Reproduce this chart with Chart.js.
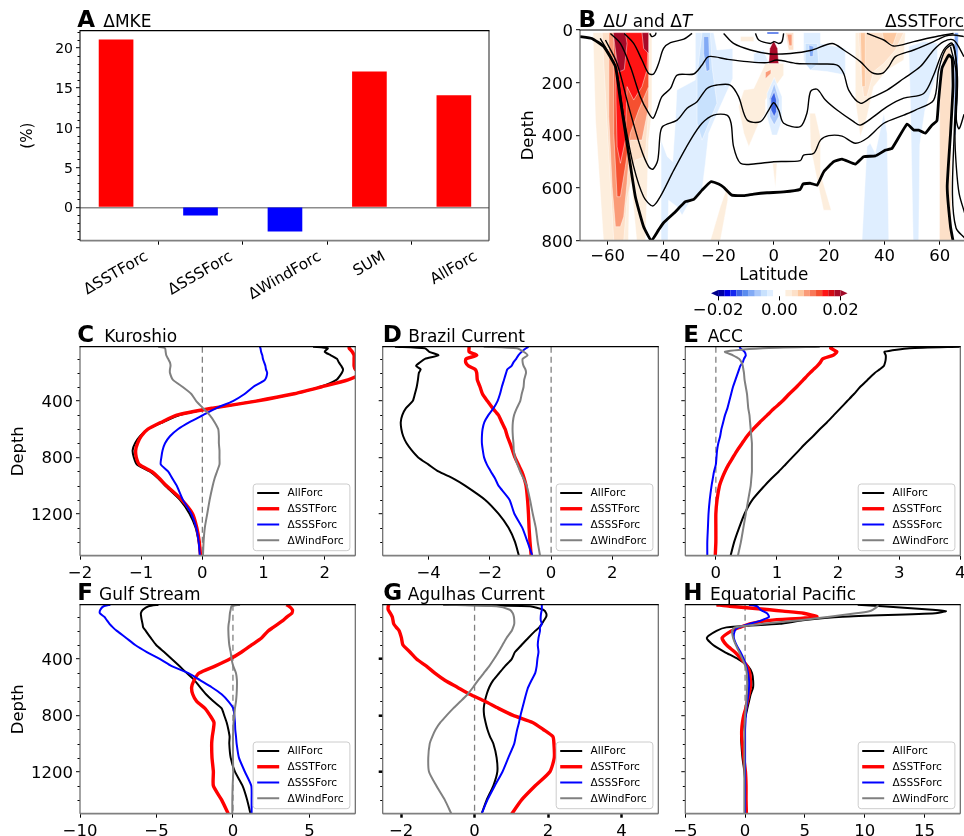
<!DOCTYPE html>
<html><head><meta charset="utf-8">
<script src="https://cdn.jsdelivr.net/npm/chart.js@4"></script>
<style>
html,body{margin:0;padding:0;width:964px;height:836px;overflow:hidden;background:#fff}
canvas{position:absolute;left:0;top:0}
</style></head><body>
<script>
// ---------- data ----------
const forcingNames = ['ΔSSTForc','ΔSSSForc','ΔWindForc','SUM','AllForc'];
const mkeValues = [21,-1,-3,17,14];
const lineLabels = ['AllForc','ΔSSTForc','ΔSSSForc','ΔWindForc'];
const depths = [14,25,50,75,100,125,150,175,200,250,300,350,400,450,500,550,600,650,700,750,800,850,900,950,1000,1100,1200,1300,1400,1500];
const depthsH = [14,25,50,60,75,100,125,150,175,200,250,300,350,400,450,500,550,600,650,700,750,800,850,900,950,1000,1100,1200,1300,1400,1500];

const kuroAll = [1.81,2.05,2.0,2.1,2.2,2.23,2.27,2.3,2.28,2.19,1.92,1.48,.88,.17,-.37,-.64,-.89,-1.02,-1.1,-1.14,-1.12,-1.07,-.86,-.72,-.61,-.37,-.21,-.11,-.06,-.03];
const kuroSST = [2.4,2.4,2.45,2.48,2.48,2.48,2.48,2.5,2.62,2.38,1.94,1.48,.88,.17,-.42,-.67,-.89,-1.0,-1.06,-1.09,-1.08,-1.03,-.83,-.7,-.59,-.34,-.16,-.09,-.05,-.03];
const kuroSSS = [.94,.95,.96,.98,.99,1.01,1.03,1.04,1.06,1.02,.83,.69,.5,.23,.01,-.21,-.4,-.53,-.61,-.65,-.67,-.68,-.56,-.49,-.42,-.32,-.18,-.1,-.06,-.04];
const kuroWind = [-.72,-.61,-.6,-.59,-.56,-.53,-.52,-.53,-.53,-.48,-.32,-.18,-.1,.01,.12,.2,.26,.27,.27,.28,.28,.28,.24,.2,.17,.12,.08,.04,.02,.01];

const brazAll = [-5.1,-4.12,-3.98,-3.68,-4.12,-4.28,-4.41,-4.26,-4.32,-4.35,-4.39,-4.45,-4.52,-4.74,-4.86,-4.91,-4.89,-4.83,-4.72,-4.55,-4.34,-4.01,-3.68,-3.19,-2.81,-2.16,-1.72,-1.39,-1.18,-1.05];
const brazSST = [-2.68,-2.68,-2.68,-2.43,-2.78,-2.79,-2.7,-2.48,-2.43,-2.41,-2.32,-2.24,-2.08,-1.91,-1.72,-1.61,-1.5,-1.43,-1.34,-1.26,-1.18,-1.07,-.96,-.88,-.82,-.77,-.74,-.72,-.69,-.65];
const brazSSS = [-.74,-.82,-.96,-1.07,-1.14,-1.23,-1.29,-1.43,-1.47,-1.54,-1.61,-1.67,-1.75,-1.88,-2.05,-2.18,-2.24,-2.26,-2.26,-2.23,-2.19,-2.1,-1.97,-1.83,-1.72,-1.36,-1.2,-.94,-.77,-.61];
const brazWind = [-2.2,-1.12,-.9,-.77,-.93,-.93,-.9,-.84,-.82,-.88,-.9,-.96,-1.01,-1.12,-1.21,-1.25,-1.26,-1.25,-1.23,-1.22,-1.18,-1.1,-1.01,-.9,-.8,-.69,-.6,-.5,-.44,-.36];

const accAll = [3.99,3.17,2.76,2.78,2.78,2.77,2.75,2.68,2.6,2.48,2.36,2.26,2.15,2.04,1.93,1.82,1.7,1.59,1.47,1.36,1.25,1.14,1.03,.91,.8,.6,.47,.38,.3,.24];
const accSST = [1.91,1.88,1.98,1.92,1.75,1.71,1.66,1.6,1.54,1.43,1.32,1.2,1.09,.96,.84,.72,.61,.51,.43,.35,.28,.21,.15,.1,.06,.02,0,0,0,-.01];
const accSSS = [.39,.4,.47,.49,.46,.44,.4,.38,.36,.32,.28,.25,.22,.19,.15,.12,.09,.07,.04,.02,.01,0,-.03,-.05,-.07,-.1,-.12,-.13,-.14,-.14];
const accWind = [1.7,.77,.15,.28,.38,.42,.44,.45,.46,.47,.49,.51,.52,.53,.55,.56,.57,.58,.59,.59,.59,.59,.59,.58,.57,.53,.49,.45,.41,.36];

const gulfAll = [-4.87,-5.52,-5.89,-6.02,-6.0,-5.96,-5.91,-5.87,-5.7,-5.37,-5.02,-4.5,-4.0,-3.5,-3.02,-2.52,-2.15,-1.76,-1.28,-.74,-.57,-.41,-.3,-.22,-.24,-.15,.13,.63,.93,1.15];
const gulfSST = [3.5,3.67,3.89,3.85,3.54,3.28,2.96,2.63,2.3,1.87,1.22,.57,-.2,-1.17,-2.22,-2.54,-2.7,-2.63,-2.37,-1.83,-1.5,-1.24,-1.28,-1.35,-1.39,-1.37,-1.28,-1.28,-.74,-.3];
const gulfSSS = [-8.02,-8.46,-8.67,-8.7,-8.41,-8.24,-8.07,-7.85,-7.59,-6.98,-6.39,-5.63,-4.76,-4.0,-2.91,-2.15,-1.39,-.74,-.3,.02,.09,.13,.15,.2,.24,.39,.78,1.2,1.22,1.22];
const gulfWind = [.46,-.09,-.15,-.2,-.22,-.24,-.28,-.3,-.3,-.28,-.24,-.15,-.09,.02,.2,.26,.26,.24,.2,.13,.09,.04,.02,0,0,0,.02,-.02,-.04,-.04];

const agulAll = [-.85,1.51,1.87,1.95,1.95,1.89,1.83,1.76,1.65,1.46,1.28,1.1,1.01,.83,.67,.51,.4,.33,.28,.25,.26,.3,.35,.42,.51,.6,.62,.51,.33,.19];
const agulSST = [-2.33,-2.35,-2.35,-2.29,-2.24,-2.22,-2.2,-2.13,-2.05,-1.99,-1.95,-1.76,-1.58,-1.31,-1.08,-.81,-.47,-.13,.28,.65,1.05,1.58,1.87,2.13,2.16,2.17,2.05,1.65,1.28,1.01];
const agulSSS = [1.83,1.83,1.83,1.81,1.8,1.8,1.83,1.78,1.78,1.74,1.72,1.74,1.71,1.69,1.65,1.55,1.46,1.4,1.35,1.3,1.25,1.21,1.16,1.12,1.08,.92,.76,.55,.35,.19];
const agulWind = [-.85,.6,.96,1.04,1.07,1.08,1.08,1.05,1.01,.87,.76,.65,.53,.4,.25,.1,-.04,-.19,-.38,-.58,-.76,-.93,-1.06,-1.15,-1.22,-1.26,-1.24,-1.04,-.81,-.63];

const eqAll = [9.42,11.5,15.67,16.8,15.9,8.17,4.83,2.89,-1.56,-2.39,-3.2,-2.67,-1.7,-.58,.25,.58,.67,.67,.47,.33,.19,.06,-.11,-.22,-.33,-.31,-.22,-.06,.03,.06,.06];
const eqSST = [-2.4,-1.28,2.06,3.17,4.9,6.0,2.06,.39,-.44,-1.14,-1.92,-1.56,-.86,-.31,.17,.39,.44,.44,.33,.19,.06,-.11,-.22,-.28,-.28,-.22,-.11,.03,.08,.08,.11];
const eqSSS = [.33,1.0,1.28,1.5,1.83,2.0,1.36,.39,-.58,-.86,-.94,-.72,-.39,-.11,.11,.25,.33,.33,.28,.19,.11,.06,.03,0,0,0,0,0,0,0,0];
const eqWind = [11.08,11.08,10.67,10.39,9.28,7.06,4.56,1.5,-.86,-1.08,-1,-.78,-.5,-.22,.03,.14,.17,.17,.14,.11,.06,0,-.03,-.06,-.06,-.06,-.06,-.06,-.06,-.06,-.06];

// Panel B: black contours as flat [lat, depth, ...] lists
const isoThick = [-70,25,-65.7,32,-61.4,63,-57.2,139,-55.4,266,-53,430,-50,633,-47,747,-44.2,800,-41.6,759,-39.8,732,-36.1,696,-31.9,652,-28.9,643,-25.9,608,-22.7,576,-19.9,585,-18.1,597,-15.1,627,-10.8,629,-7.2,623,-2.4,618,3.6,615,9.6,605,10.6,585,13.3,582,15.7,589,18.1,538,21.7,500,24.7,490,29.5,509,32.5,481,36.7,478,40.4,456,42.8,449,48.2,357,50.6,380,52.4,380,54.8,392,57.2,361,59,344,59.6,266,60.8,146,63.3,95,64.5,108,64.8,215,63.9,392,62.7,595,63.9,747,64.8,800];
const iso1a = [-54,13,-50.6,51,-47.6,114,-45.2,165,-43.4,167,-41.6,127,-39.8,70,-37.3,48,-32.5,35,-29.5,13];
const iso1b = [-18.1,13,-14.5,51,-8.4,76,-1.2,91,6,89,13.3,78,21.1,51,25.3,76,31.3,120,35.5,162,39.2,165,41.6,139,44,101,50.6,76,57.8,44,62,23,65,19,68.7,25];
const iso1c = [33.7,13,39.8,38,43.4,61,50.6,44,59.6,23,65,13];
const iso1d = [-6.6,13,-5.4,38,-1.2,51,.2,44,1.8,51,3,44,3.6,13];
const iso1e = [-44.8,13,-44,25,-42.8,19,-42.5,10];
const iso2 = [-59,13,-55.4,51,-51.8,139,-48.2,253,-45.2,316,-43.6,335,-42.2,304,-40.4,253,-37.3,222,-34.9,171,-28.9,167,-25.9,133,-23.5,101,-16.9,111,-9.6,120,-2.4,124,1.2,114,8.4,127,16.9,129,22.9,133,25.3,165,27.1,228,31.3,278,34.9,259,41,228,47,184,53,139,57.8,76,61.4,44,65,38,67.5,76,68.7,101];
const iso3 = [-60.8,38,-56.6,127,-52.4,291,-48.2,443,-45.2,519,-43.6,528,-41.9,494,-41,392,-40,365,-34.9,342,-31.3,297,-27.7,272,-24.1,222,-20.5,209,-15.7,209,-12.7,253,-9.6,342,-4.8,348,-1.8,304,0,276,1.8,304,3.6,354,9.6,367,12,316,13.3,234,15.7,225,18.7,266,22.9,304,28.9,348,31.3,361,36.1,329,41,291,47,259,54.2,241,57.8,171,61.4,76,64.5,51,66.4,180,66,340,67,375,68.8,320];
const iso4 = [-62.7,32,-57.2,139,-54.2,329,-50.6,519,-47,633,-43.7,668,-41,633,-36.1,532,-30.1,418,-25.9,354,-21.7,323,-16.9,323,-15.4,354,-14.5,443,-12,506,-7.2,509,0,500,9.6,496,10.8,475,14.5,468,16.9,418,19.9,401,24.7,403,29.5,430,33.7,411,39.8,354,47,323,51.2,304,57.8,266,59.6,152,62,76,65,57,66.3,200,65.5,400,66,520,67,620,69,695];
const iso5 = [63.9,63,65.9,160,65.3,372,64.6,626,65.9,752,69,790];
const isoLines = [iso1a,iso1b,iso1c,iso1d,iso1e,iso2,iso3,iso4,iso5];

// Panel B: shaded anomaly regions, [value, flat lat/depth outline], painted in order
const shadeRegions = [
 [.003,[-65.3,10,-44,10,-44,304,-45.2,418,-46.3,800,-49.5,800,-52,520,-52.5,800,-61.5,800,-64.4,342]],
 [.005,[-62,10,-45.2,10,-45.2,304,-46.4,481,-50,494,-53,646,-54.2,800,-57.8,800,-60,400]],
 [.009,[-59.6,10,-45.2,10,-45.2,291,-47.6,418,-51.8,418,-53,582,-54.2,709,-55.4,747,-57.2,747,-58.4,595,-59.6,329]],
 [.013,[-57.8,10,-45.2,10,-45.2,215,-48.8,304,-51.8,392,-53.6,519,-55.4,633,-56.6,633,-57.8,392]],
 [.015,[-57.2,10,-45.2,10,-45.8,152,-47.6,215,-50.6,266,-53,215,-53.6,418,-55.4,506,-56.6,443,-57,266]],
 [.019,[-58,10,-53.6,10,-53,51,-54,150,-56,160,-57.2,76]],
 [.019,[-47.6,10,-45.2,10,-45.2,90,-47,70]],
 [-.003,[-35.5,342,-35,228,-28.3,190,-28.3,10,-21.7,10,-20.5,76,-14.8,70,-14.8,184,-19.9,304,-23.5,392,-24.7,506,-25.9,608,-30.1,646,-33.1,703,-34.9,671,-38,646,-38.2,800,-40.7,800,-40.7,418,-38.5,480,-36.5,500]],
 [-.005,[-27.7,171,-25.9,10,-22.9,10,-22.3,139,-20.5,278,-25.9,418,-27.7,354]],
 [-.009,[-25.3,25,-23.5,25,-23.1,152,-24.3,158,-25.3,89]],
 [.003,[-12.7,291,-10.8,228,-7.2,222,-3,127,3.6,127,3.6,171,-3,266,-3,316,-5.4,354,-9,443,-10.8,392]],
 [.003,[-.4,506,1.2,506,.6,601]],
 [.003,[13,316,15,316,16.9,405,16.9,544,20.8,684,18,684,15.7,570,13.3,443]],
 [.003,[-22.9,800,-19.3,671,-16.6,589,-16.6,646,-19.3,800]],
 [.009,[-3,160,-1,150,-1,165,-3,185]],
 [.019,[0,40,1.4,70,1.8,127,-1.8,127,-1.4,70]],
 [-.003,[.2,180,3,253,3,342,1.2,399,-.6,399,-2.4,329,-2.4,240]],
 [-.007,[.2,203,2,266,1.8,329,.2,361,-1.4,329,-1.6,259]],
 [-.013,[.2,234,1,266,1,310,.2,329,-1,304,-1,259]],
 [.005,[4.2,10,7.2,10,7.2,76,5.4,76]],
 [.009,[4.8,16,6.6,16,6.6,60,5.6,60]],
 [.003,[-12,25,-7.2,25,-7.2,44,-12,44]],
 [-.013,[-2.4,8,1.8,8,1.8,15,-2.4,15]],
 [-.003,[10.8,10,16.9,10,16.9,51,25.9,70,25.9,171,19.3,158,13.3,152,10.8,114]],
 [-.005,[11.4,51,15.7,51,16.3,127,13.3,152,11.4,127]],
 [-.009,[12.7,57,14.5,63,14.2,101,13,101]],
 [-.003,[-7.2,89,-3.6,76,-1.8,127,-7.2,127]],
 [.003,[29.5,10,47.6,10,47,114,41,152,36.1,215,33.7,329,31.3,405,29.5,266]],
 [.005,[30.7,10,47,10,44,76,39.8,127,36.1,158,33.7,253,32.5,253,31.3,139]],
 [.007,[31.3,10,33.1,10,33.1,215,31.9,215]],
 [.007,[39.2,10,44.6,10,43.1,57,39.8,38]],
 [-.003,[31.9,800,33.7,443,34.9,430,36.7,468,39.8,316,41,392,41.6,800]],
 [-.003,[50.4,800,49.4,278,48.8,63,54.2,44,59.2,50,59.2,156,54.6,307,52.8,436,52.4,800]],
 [.005,[59.9,800,60,200,61.5,68,64,68,64.2,800]],
 [-.009,[65.3,10,66.7,10,66.5,250,65.8,400,65.2,400]]
];
const colorbarColors = ['#0000a5','#0000e6','#1428f0','#3c64e6','#5a8cee','#82aaf5','#aac8fa','#c8e1fd','#dfeeff','#ffffff','#ffffff','#fdeedd','#fde0c8','#fdc8a0','#fa9b78','#f87858','#f55030','#ff1414','#d20a14','#a80a28'];
const colorbarEdges = [-.02,-.018,-.016,-.014,-.012,-.01,-.008,-.006,-.004,-.002,0,.002,.004,.006,.008,.01,.012,.014,.016,.018,.02];
const colorbarTicks = [-.02,0,.02];

const latTicks = [-60,-40,-20,0,20,40,60];
const depthTicksB = [0,200,400,600,800];
const depthTicks = [400,800,1200];
const depthMinor = [100,200,300,500,600,700,900,1000,1100,1300,1400];
const mkeTicks = [0,5,10,15,20];
const mkeMinor = [-4,-3,-2,-1,1,2,3,4,6,7,8,9,11,12,13,14,16,17,18,19,21,22];

// ---------- helpers ----------
const FONT = '"DejaVu Sans"';
const TITLE_PX = 17;
const CW = 1000, CH = 836;
const minus = s => String(s).replace('-', '\u2212');
const pairs = f => { const o = []; for (let i = 0; i < f.length; i += 2) o.push({x: f[i], y: f[i + 1]}); return o; };
const colorOf = v => colorbarColors[Math.min(19, Math.max(0, Math.floor((v + .02) / .002)))];

function decorate(c) {
  return {
    id: 'decor',
    beforeDatasetsDraw(chart) {
      const ctx = chart.ctx, a = chart.chartArea;
      ctx.save();
      ctx.beginPath(); ctx.rect(a.left, a.top, a.right - a.left, a.bottom - a.top); ctx.clip();
      chart.data.datasets.forEach((d, i) => {
        if (!d.region) return;
        const pts = chart.getDatasetMeta(i).data;
        ctx.beginPath();
        pts.forEach((p, k) => k ? ctx.lineTo(p.x, p.y) : ctx.moveTo(p.x, p.y));
        ctx.closePath();
        ctx.fillStyle = d.regionColor; ctx.fill();
        if (c.regionStroke) { ctx.strokeStyle = 'rgba(255,255,255,.75)'; ctx.lineWidth = .6; ctx.stroke(); }
      });
      ctx.restore();
    },
    afterDraw(chart) {
      const ctx = chart.ctx, a = chart.chartArea, ys = chart.scales.y;
      ctx.save();
      if (c.minor) {
        ctx.strokeStyle = '#000'; ctx.lineWidth = 1;
        c.minor.forEach(v => { const y = Math.round(ys.getPixelForValue(v)) + .5;
          ctx.beginPath(); ctx.moveTo(a.left - 2.5, y); ctx.lineTo(a.left, y); ctx.stroke(); });
      }
      if (c.frame !== false) {
        const F = c.frameColors || {top: '#000', left: '#666', right: '#666', bottom: '#808080'};
        const seg = (x1, y1, x2, y2, col, w) => { ctx.strokeStyle = col; ctx.lineWidth = w; ctx.beginPath(); ctx.moveTo(x1, y1); ctx.lineTo(x2, y2); ctx.stroke(); };
        seg(a.left, a.bottom, a.right, a.bottom, F.bottom, 1.8);
        seg(a.left, a.top, a.left, a.bottom, F.left, 1.2);
        seg(a.right, a.top, a.right, a.bottom, F.right, 1.2);
        seg(a.left - .5, a.top, a.right + .5, a.top, F.top, 1.2);
      }
      if (c.legend) {
        const w = 96.7, h = 66.7, x0 = a.right - 5.4 - w, y0 = a.bottom - 5 - h;
        ctx.beginPath(); ctx.roundRect(x0, y0, w, h, 3);
        ctx.fillStyle = 'rgba(255,255,255,.85)'; ctx.fill();
        ctx.strokeStyle = '#ccc'; ctx.lineWidth = 1; ctx.stroke();
        ctx.font = '10.6px ' + FONT; ctx.textBaseline = 'middle'; ctx.textAlign = 'left';
        const rows = chart.data.datasets.filter(d => d.label);
        rows.forEach((d, i) => {
          const y = y0 + 9 + i * 15.75;
          ctx.strokeStyle = d.borderColor; ctx.lineWidth = d.borderWidth;
          ctx.beginPath(); ctx.moveTo(x0 + 4, y); ctx.lineTo(x0 + 26, y); ctx.stroke();
          ctx.fillStyle = '#000'; ctx.fillText(d.label, x0 + 34.4, y + .5);
        });
      }
      ctx.textBaseline = 'alphabetic'; ctx.textAlign = 'left'; ctx.fillStyle = '#000';
      if (c.letter) {
        ctx.font = 'bold 23px ' + FONT; ctx.fillText(c.letter[0], c.letter[1], c.letter[2]);
      }
      if (c.title) {
        let x = c.title[1];
        c.title[0].forEach(([t, it]) => {
          ctx.font = (it ? 'italic ' : '') + TITLE_PX + 'px ' + FONT;
          ctx.fillText(t, x, c.title[2]); x += ctx.measureText(t).width;
        });
      }
      if (c.rightTitle) {
        ctx.font = TITLE_PX + 'px ' + FONT; ctx.fillText(c.rightTitle[0], c.rightTitle[1], c.rightTitle[2]);
      }
      if (c.rotated) {
        const xs = chart.scales.x, ang = 30 * Math.PI / 180, fs = 15.3;
        ctx.font = fs + 'px ' + FONT; ctx.textAlign = 'center'; ctx.textBaseline = 'middle';
        c.rotated.forEach((t, i) => {
          const tw = ctx.measureText(t).width;
          const bh = tw * Math.sin(ang) + fs * 1.16 * Math.cos(ang);
          ctx.save();
          ctx.translate(xs.getPixelForValue(i), 248 + bh / 2);
          ctx.rotate(-ang);
          ctx.fillText(t, 0, 0);
          ctx.restore();
        });
      }
      ctx.restore();
    }
  };
}

function panel(c) {
  const cv = document.createElement('canvas');
  cv.width = CW; cv.height = CH;
  cv.style.width = CW + 'px'; cv.style.height = CH + 'px';
  document.body.appendChild(cv);
  const yW = c.yW || 60, xH = c.xH || 30, fs = c.fs || 16.5;
  const lw = c.tickW || 1;
  return new Chart(cv.getContext('2d'), {
    type: c.type || 'scatter',
    data: {datasets: c.datasets},
    options: {
      responsive: false, animation: false, devicePixelRatio: 1,
      layout: {autoPadding: false, padding: {left: c.L - yW, right: CW - c.R, top: c.T, bottom: CH - c.B - xH}},
      plugins: {legend: {display: false}, title: {display: false}, tooltip: {enabled: false}},
      scales: {
        x: {
          type: 'linear', position: 'bottom', bounds: 'data', offset: false,
          min: c.xMin, max: c.xMax,
          afterBuildTicks: s => { s.ticks = c.xTicks.map(v => ({value: v})); },
          afterFit: s => { s.height = xH; },
          border: {display: false},
          grid: {drawOnChartArea: false, drawTicks: true, tickLength: 4, tickColor: '#000', tickWidth: lw},
          title: c.xTitle ? {display: true, text: c.xTitle, font: {family: FONT, size: 16.8}, color: '#000', padding: 0} : {display: false},
          ticks: {autoSkip: false, maxRotation: 0, minRotation: 0, padding: c.xPad === undefined ? 4.5 : c.xPad, color: '#000', font: {family: FONT, size: fs},
                  callback: c.xFmt || (v => minus(v))}
        },
        y: {
          type: 'linear', position: 'left', bounds: 'data', reverse: !!c.reverse,
          min: c.yMin, max: c.yMax,
          afterBuildTicks: s => { s.ticks = c.yTicks.map(v => ({value: v})); },
          afterFit: s => { s.width = yW; },
          border: {display: false},
          grid: {drawOnChartArea: !!c.zeroGrid, drawTicks: true, tickLength: 4, tickColor: '#000', tickWidth: lw,
                 color: c.zeroGrid ? (x => x.tick && x.tick.value === 0 ? '#8c8c8c' : 'rgba(0,0,0,0)') : 'rgba(0,0,0,0)', lineWidth: 1.4},
          title: c.yTitle ? {display: true, text: c.yTitle, font: {family: FONT, size: c.yTitleSize || 16.4}, color: '#000', padding: 0} : {display: false},
          ticks: {autoSkip: false, padding: 3, labelOffset: 1.6, color: '#000', font: {family: FONT, size: c.yFs || fs},
                  callback: v => c.yLabels === false ? '' : minus(v)}
        }
      }
    },
    plugins: [decorate(c)]
  });
}

const styleFor = [['#000000', 2], ['#ff0000', 3.4], ['#0000ff', 2], ['#808080', 2]];
function lineSets(series, dep, yMin, yMax) {
  const sets = series.map((vals, i) => ({
    label: lineLabels[i], data: vals.map((v, k) => ({x: v, y: dep[k]})),
    showLine: true, borderColor: styleFor[i][0], borderWidth: styleFor[i][1], pointRadius: 0,
    borderJoinStyle: 'round', tension: .2, order: 10 - i
  }));
  sets.push({data: [{x: 0, y: yMin}, {x: 0, y: yMax}], showLine: true, borderColor: '#808080', borderWidth: 1.3,
             borderDash: [6, 4], pointRadius: 0, order: 20});
  return sets;
}

// ---------- panel A ----------
panel({
  type: 'bar', L: 80, R: 489, T: 30.7, B: 240.7, xMin: -.427, xMax: 4.416, yMin: -4.2, yMax: 22.15,
  xTicks: [0,1,2,3,4], xFmt: () => '', yTicks: mkeTicks, minor: mkeMinor, fs: 14,
  yW: 60.7, yTitle: '(%)', yTitleSize: 15, zeroGrid: true, xH: 30,
  frameColors: {top: '#000', left: '#222', right: '#444', bottom: '#808080'},
  rotated: forcingNames,
  letter: ['A', 77.3, 26.7], title: [[['ΔMKE']], 103.3, 26.7],
  datasets: [{data: mkeValues.map((v, i) => ({x: i, y: v})), barThickness: 34,
               backgroundColor: mkeValues.map(v => v >= 0 ? '#ff0000' : '#0000ff')}]
});

// ---------- panel B ----------
panel({
  L: 580, R: 967.4, T: 30, B: 240.7, xMin: -70, xMax: 70, yMin: 0, yMax: 800, reverse: true,
  xTicks: latTicks, yTicks: depthTicksB, yW: 60.6, yTitle: 'Depth', xTitle: 'Latitude', xH: 45.3, xPad: 2.5,
  regionStroke: true, letter: ['B', 578.5, 26.7], title: [[['Δ'], ['U', 1], [' and Δ'], ['T', 1]], 603.3, 26.7],
  rightTitle: ['ΔSSTForc', 885, 26.7],
  datasets: [
    ...shadeRegions.map(r => ({region: true, regionColor: colorOf(r[0]), data: pairs(r[1]), pointRadius: 0, showLine: false})),
    ...isoLines.map(f => ({data: pairs(f), showLine: true, borderColor: '#000', borderWidth: 1.4, pointRadius: 0, tension: .3, order: -1})),
    {data: pairs(isoThick), showLine: true, borderColor: '#000', borderWidth: 2.8, pointRadius: 0, tension: .12, order: -2}
  ]
});

// ---------- colour bar ----------
panel({
  L: 710.45, R: 848.15, T: 290, B: 296.4, xMin: -.0225, xMax: .0225, yMin: 0, yMax: 1,
  xTicks: colorbarTicks, yTicks: [], xFmt: v => v === 0 ? '0.00' : minus(v.toFixed(2)), frame: false, xPad: .5,
  yW: 10,
  datasets: [
    {region: true, regionColor: '#00008b', data: pairs([-.02,0,-.02,1,-.0223,.5]), pointRadius: 0},
    {region: true, regionColor: '#a00a28', data: pairs([.02,0,.02,1,.0223,.5]), pointRadius: 0},
    ...colorbarColors.map((col, i) => ({region: true, regionColor: col, pointRadius: 0,
      data: pairs([colorbarEdges[i],0,colorbarEdges[i+1],0,colorbarEdges[i+1],1,colorbarEdges[i],1])}))
  ]
});

// ---------- line panels ----------
const rowTop = {T: 346.7, B: 555.7}, rowBot = {T: 604.7, B: 813.7};
const col1 = {L: 80, R: 355.3}, col2 = {L: 382.7, R: 658.3}, col3 = {L: 685.3, R: 960.3};
const yMin = 14, yMax = 1498;
function lineChart(o) {
  panel(Object.assign({
    yMin, yMax, reverse: true, yTicks: depthTicks, minor: depthMinor, legend: true,
    datasets: lineSets(o.series, o.dep || depths, yMin, yMax)
  }, o));
}
lineChart({...col1, ...rowTop, xMin: -2, xMax: 2.5, xTicks: [-2,-1,0,1,2], series: [kuroAll,kuroSST,kuroSSS,kuroWind],
  yW: 70.6, yTitle: 'Depth', letter: ['C', 77.3, 341.7], title: [[['Kuroshio']], 104.3, 341.7]});
lineChart({...col2, ...rowTop, xMin: -5.5, xMax: 3.5, xTicks: [-4,-2,0,2], series: [brazAll,brazSST,brazSSS,brazWind],
  yLabels: false, letter: ['D', 382.7, 341.7], title: [[['Brazil Current']], 408.3, 341.7]});
lineChart({...col3, ...rowTop, xMin: -.5, xMax: 4, xTicks: [0,1,2,3,4], series: [accAll,accSST,accSSS,accWind],
  yLabels: false, letter: ['E', 683.3, 341.7], title: [[['ACC']], 707.7, 341.7]});
lineChart({...col1, ...rowBot, xMin: -10, xMax: 8, xTicks: [-10,-5,0,5], series: [gulfAll,gulfSST,gulfSSS,gulfWind],
  yW: 70.6, yTitle: 'Depth', letter: ['F', 77.3, 600], title: [[['Gulf Stream']], 99, 600]});
lineChart({...col2, ...rowBot, xMin: -2.5, xMax: 5, xTicks: [-2,0,2,4], series: [agulAll,agulSST,agulSSS,agulWind],
  yLabels: false, tickW: 2.5, letter: ['G', 383.3, 600], title: [[['Agulhas Current']], 407.7, 600]});
lineChart({...col3, ...rowBot, xMin: -5, xMax: 18, xTicks: [-5,0,5,10,15], series: [eqAll,eqSST,eqSSS,eqWind], dep: depthsH,
  yLabels: false, letter: ['H', 683.3, 600], title: [[['Equatorial Pacific']], 710, 600]});
</script>
</body></html>
